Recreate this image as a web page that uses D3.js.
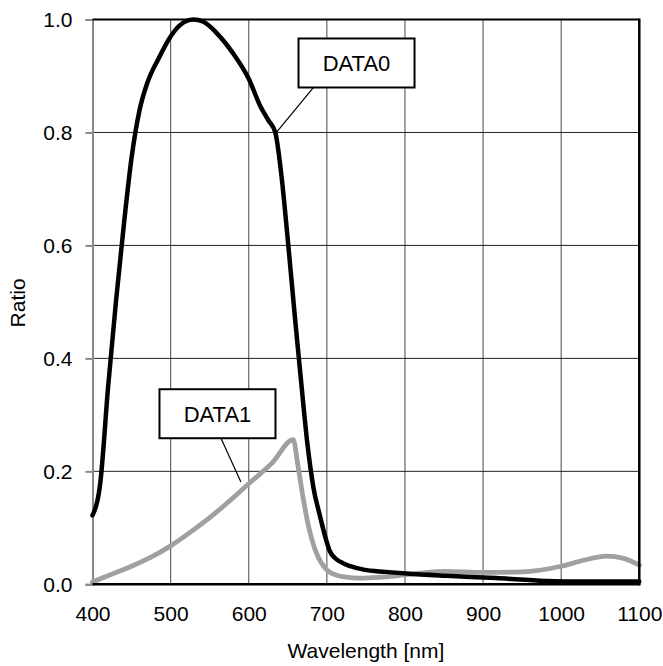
<!DOCTYPE html>
<html>
<head>
<meta charset="utf-8">
<script src="https://cdn.jsdelivr.net/npm/d3@7"></script>
<style>
  html, body { margin: 0; padding: 0; background: #fff; }
  svg { display: block; font-family: Arial, "Liberation Sans", Helvetica, sans-serif; }
</style>
</head>
<body>
<svg id="chart" width="663" height="666"></svg>
<script>
// ---- data ----
const xTicks = [400, 500, 600, 700, 800, 900, 1000, 1100];
const yTicks = [0, 0.2, 0.4, 0.6, 0.8, 1.0];

const data0Wavelength = [400, 410, 420, 430, 440, 450, 460, 470, 485, 500, 512, 529, 542, 559, 580, 600, 615, 625, 634, 642, 650, 660, 667, 675, 683, 691, 698, 704, 710, 717, 730, 747, 775, 802, 853, 917, 980, 1030, 1066, 1100];
const data0Ratio      = [0.122, 0.18, 0.35, 0.50, 0.635, 0.755, 0.838, 0.887, 0.932, 0.97, 0.99, 1.0, 0.996, 0.976, 0.94, 0.895, 0.846, 0.822, 0.80, 0.722, 0.61, 0.46, 0.36, 0.25, 0.17, 0.122, 0.084, 0.058, 0.047, 0.040, 0.032, 0.026, 0.022, 0.019, 0.015, 0.011, 0.006, 0.005, 0.005, 0.005];

const data1Wavelength = [400, 425, 450, 475, 500, 525, 550, 575, 600, 630, 657, 663, 670, 677, 684, 690, 696, 703, 713, 730, 747, 775, 802, 850, 900, 950, 1000, 1030, 1058, 1080, 1100];
const data1Ratio      = [0.004, 0.018, 0.032, 0.048, 0.068, 0.092, 0.118, 0.147, 0.178, 0.215, 0.256, 0.21, 0.15, 0.10, 0.065, 0.045, 0.032, 0.022, 0.016, 0.012, 0.011, 0.013, 0.017, 0.023, 0.021, 0.022, 0.032, 0.043, 0.050, 0.046, 0.034];

const annotations = [
  { label: "DATA0", cx: 738, cy: 0.923, tx: 636, ty: 0.801, lineDx: -43 },
  { label: "DATA1", cx: 560, cy: 0.302, tx: 590, ty: 0.181, lineDx: 3.5 }
];

// ---- layout ----
const svg = d3.select("#chart");
const x = d3.scaleLinear().domain([400, 1100]).range([92.5, 639.3]);
const y = d3.scaleLinear().domain([0, 1]).range([584.3, 19.5]);
const fontSize = 21;

// vertical gridlines
svg.append("g").selectAll("line").data(xTicks.slice(1, -1)).join("line")
  .attr("x1", d => x(d)).attr("x2", d => x(d))
  .attr("y1", y(0)).attr("y2", y(1))
  .attr("stroke", "#666").attr("stroke-width", 1.2);

// horizontal gridlines
svg.append("g").selectAll("line").data(yTicks.slice(1, -1)).join("line")
  .attr("x1", x(400)).attr("x2", x(1100))
  .attr("y1", d => y(d)).attr("y2", d => y(d))
  .attr("stroke", "#222").attr("stroke-width", 1);

// left axis with outward ticks (gray)
const yAxis = d3.axisLeft(y).tickValues(yTicks).tickFormat(d3.format(".1f")).tickSize(7).tickPadding(13);
const gy = svg.append("g").attr("transform", `translate(${x(400)},0)`).call(yAxis);
gy.select(".domain").attr("stroke", "#888").attr("stroke-width", 2);
gy.selectAll(".tick line").attr("stroke", "#888").attr("stroke-width", 2);
gy.selectAll(".tick text").attr("font-size", fontSize).attr("font-family", "Arial, 'Liberation Sans', sans-serif").attr("fill", "#000");

// bottom axis (labels only)
const xAxis = d3.axisBottom(x).tickValues(xTicks).tickFormat(d3.format("d")).tickSize(0).tickPadding(22);
const gx = svg.append("g").attr("transform", `translate(0,${y(0)})`).call(xAxis);
gx.select(".domain").remove();
gx.selectAll(".tick text").attr("font-size", fontSize).attr("font-family", "Arial, 'Liberation Sans', sans-serif").attr("fill", "#000");

// lines
const line = d3.line().x(d => x(d[0])).y(d => y(d[1])).curve(d3.curveMonotoneX);
const series1 = data1Wavelength.map((w, i) => [w, data1Ratio[i]]);
const series0 = data0Wavelength.map((w, i) => [w, data0Ratio[i]]);

svg.append("path").datum(series1)
  .attr("d", line)
  .attr("fill", "none").attr("stroke", "#a0a0a0").attr("stroke-width", 4.8)
  .attr("stroke-linejoin", "round").attr("stroke-linecap", "round");

svg.append("path").datum(series0)
  .attr("d", line)
  .attr("fill", "none").attr("stroke", "#000").attr("stroke-width", 4.5)
  .attr("stroke-linejoin", "round").attr("stroke-linecap", "round");

// frame: top, right, bottom black
svg.append("line").attr("x1", x(400)).attr("x2", x(1100)).attr("y1", y(1)).attr("y2", y(1))
  .attr("stroke", "#000").attr("stroke-width", 2);
svg.append("line").attr("x1", x(1100)).attr("x2", x(1100)).attr("y1", y(1) - 1).attr("y2", y(0) + 1)
  .attr("stroke", "#000").attr("stroke-width", 2.5);
svg.append("line").attr("x1", x(400)).attr("x2", x(1100) + 1).attr("y1", y(0)).attr("y2", y(0))
  .attr("stroke", "#000").attr("stroke-width", 2.5);

// annotations
const boxW = 116, boxH = 49;
annotations.forEach(a => {
  const cx = x(a.cx), cy = y(a.cy);
  svg.append("line")
    .attr("x1", cx + a.lineDx).attr("y1", cy + boxH / 2)
    .attr("x2", x(a.tx)).attr("y2", y(a.ty))
    .attr("stroke", "#000").attr("stroke-width", 1.2);
  svg.append("rect")
    .attr("x", cx - boxW / 2).attr("y", cy - boxH / 2)
    .attr("width", boxW).attr("height", boxH)
    .attr("fill", "#fff").attr("stroke", "#000").attr("stroke-width", 2);
  svg.append("text")
    .attr("x", cx).attr("y", cy + 8)
    .attr("text-anchor", "middle").attr("font-size", 22).attr("fill", "#000")
    .text(a.label);
});

// axis titles
svg.append("text").attr("x", x(750)).attr("y", 658)
  .attr("text-anchor", "middle").attr("font-size", fontSize).attr("fill", "#000")
  .text("Wavelength [nm]");
svg.append("text").attr("transform", `translate(25,${(y(0) + y(1)) / 2 + 1}) rotate(-90)`)
  .attr("text-anchor", "middle").attr("font-size", fontSize).attr("fill", "#000")
  .text("Ratio");
</script>
</body>
</html>
